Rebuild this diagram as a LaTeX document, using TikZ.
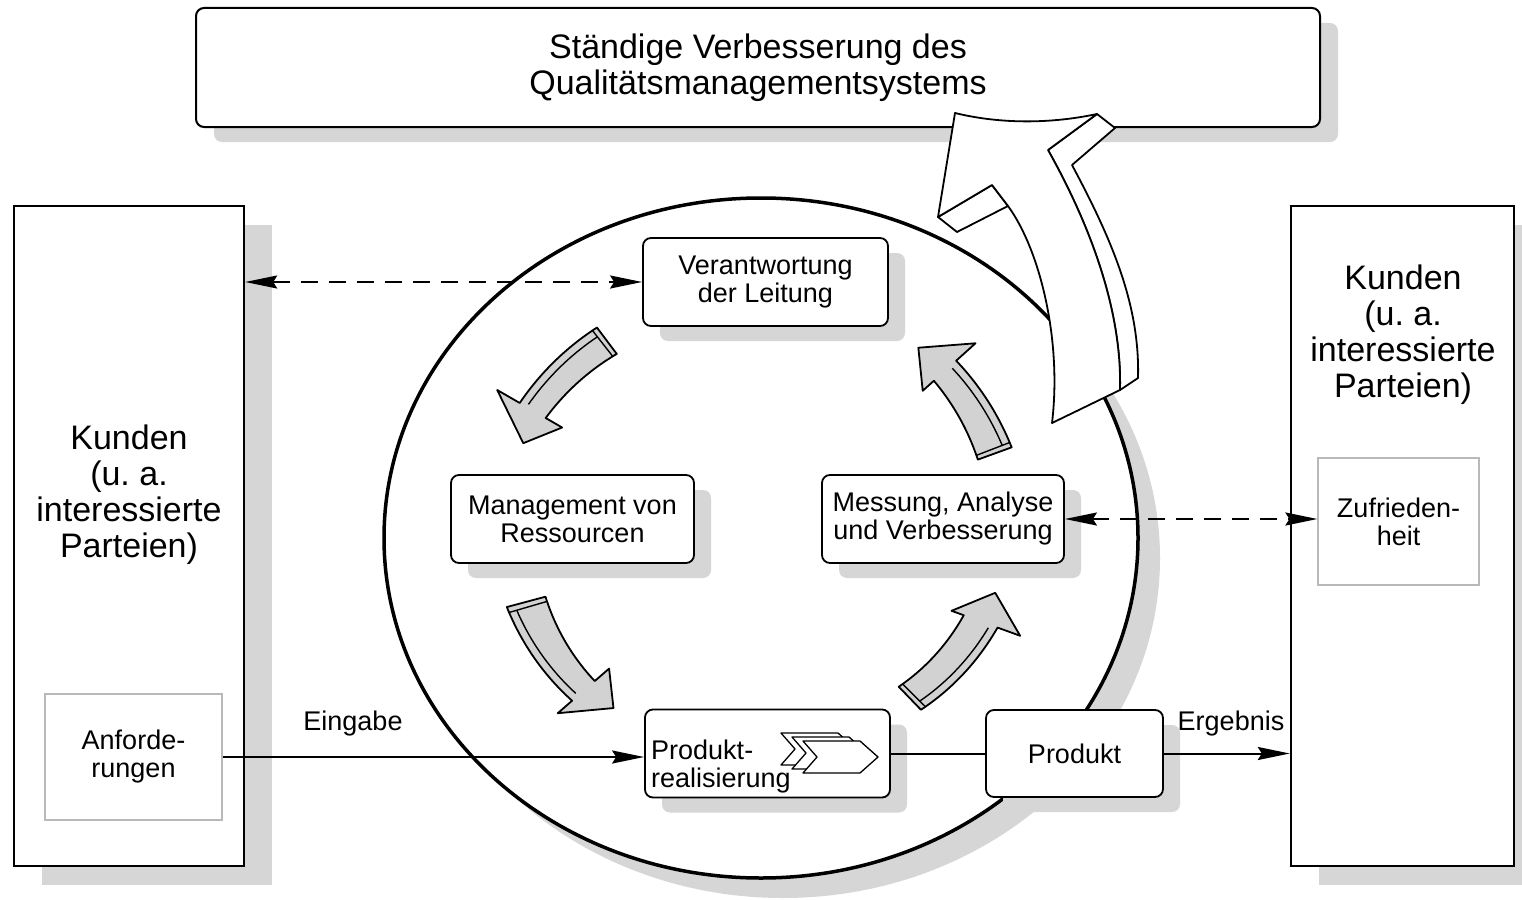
\documentclass[tikz,border=0pt]{standalone}
\usepackage{fontspec}
\setmainfont{Liberation Sans}
\usetikzlibrary{shapes.geometric,shadows,arrows.meta}
\definecolor{shgray}{RGB}{214,214,214}
\definecolor{arrgray}{RGB}{210,210,210}
\frenchspacing
\newcommand{\garrowtip}{250}
\newcommand{\garrow}[9]{%
  \begin{scope}[shift={(757,540)}]
    \filldraw[garr] plot[domain=0:1,samples=25] ({#1+(#2-(#1))*\x}:{#5+(#7-(#5))*\x})
      -- ({#2}:{#9}) -- ({#3}:{\garrowtip}) -- ({#2}:{#8})
      -- plot[domain=0:1,samples=25] ({#2+(#1-(#2))*\x}:{#6+(#4-(#6))*\x}) -- cycle;
    \draw[garrthin] plot[domain=0.05:0.97,samples=20] ({#1+(#2-(#1))*\x}:{#5-8+(#7-(#5))*\x});
    \draw[garrthin] ({#1+(#2-(#1))*0.05}:{#4+(#6-(#4))*0.05}) -- ({#1+(#2-(#1))*0.05}:{#5+(#7-(#5))*0.05});
  \end{scope}}
\newcommand{\chevronshape}[2]{%
  \filldraw[fill=white,draw=black,line width=1.3pt,line join=round]
    (#1,#2) -- ++(57,0) -- ++(18,16) -- ++(-18,16) -- ++(-57,0) -- ++(14,-16) -- cycle;}
\begin{document}
\begin{tikzpicture}[x=1pt,y=-1pt,
  bigfont/.style={font=\fontsize{34pt}{36pt}\selectfont\frenchspacing},
  txtfont/.style={font=\fontsize{27pt}{28pt}\selectfont},
  bigbox/.style={draw,line width=2.4pt,fill=white,minimum width=#1,minimum height=660pt,inner sep=0pt,
    drop shadow={shadow xshift=28pt,shadow yshift=-19pt,fill=shgray,opacity=1}},
  topbox/.style={draw,line width=2pt,rounded corners=8pt,fill=white,minimum width=1124pt,minimum height=119pt,
    inner sep=0pt,align=center,bigfont,
    drop shadow={shadow xshift=18pt,shadow yshift=-15pt,fill=shgray,opacity=1}},
  ibox/.style={draw,line width=1.8pt,rounded corners=8pt,fill=white,minimum width=#1,minimum height=88pt,
    inner sep=0pt,align=center,txtfont,
    drop shadow={shadow xshift=17pt,shadow yshift=-15pt,fill=shgray,opacity=1}},
  gbox/.style={draw=gray!55,line width=1.2pt,fill=white,inner sep=0pt,align=center,txtfont},
  bigtext/.style={align=center,bigfont,inner sep=0pt},
  lbl/.style={txtfont,inner sep=0pt},
  conn/.style={line width=2pt},
  dsh/.style={line width=2pt,dash pattern=on 17pt off 11pt},
  tipb/.tip={Stealth[length=32pt,width=13pt,inset=4pt]},
  garr/.style={fill=arrgray,draw=black,line width=1.8pt,line join=round},
  garrthin/.style={draw=black,line width=1.4pt},
  warr/.style={fill=white,draw=black,line width=1.8pt,line join=round}]

\useasboundingbox (0,0) rectangle (1522,899);
\fill[white] (0,0) rectangle (1522,899);

% big customer boxes
\node[bigbox=230pt] (lbox) at (129,536) {};
\node[bigbox=223pt] (rbox) at (1402.5,536) {};
\node[bigtext] (ltext) at (129,495) {Kunden\\(u. a.\\interessierte\\Parteien)};
\node[bigtext] (rtext) at (1403,335) {Kunden\\(u. a.\\interessierte\\Parteien)};

% top box
\node[topbox] (top) at (758,67.5) {Ständige Verbesserung des\\Qualitätsmanagementsystems};

% ellipse
\node[ellipse,draw,line width=3.5pt,fill=white,minimum width=754pt,minimum height=680pt,inner sep=0pt,
  drop shadow={shadow xshift=22pt,shadow yshift=-20pt,fill=shgray,opacity=1}] (circ) at (761,538) {};

% inner boxes
\node[ibox=245pt] (ver) at (765.5,282) {Verantwortung\\der Leitung};
\node[ibox=243pt] (man) at (572.5,519) {Management von\\Ressourcen};
\node[ibox=242pt] (mess) at (943,519) {Messung, Analyse\\und Verbesserung};
\node[ibox=245pt] (prod) at (767.5,753.5) {};
\node[ibox=177pt,minimum height=87pt] (produkt) at (1074.5,753.5) {Produkt};
\node[txtfont,align=left,anchor=west,inner sep=0pt] (prodtext) at (651,767) {Produkt-\\realisierung};

% chevrons
\chevronshape{781}{733}
\chevronshape{792}{737}
\chevronshape{803}{741}

% curved grey arrows
\renewcommand{\garrowtip}{253}
\garrow{233}{210}{202.5}{233}{266}{244}{274}{225}{300}
\renewcommand{\garrowtip}{221}
\garrow{165}{139}{130.5}{219}{259}{215}{245}{196}{264}
\renewcommand{\garrowtip}{244}
\garrow{46}{20}{12.5}{204}{236}{220}{256}{207}{280}
\renewcommand{\garrowtip}{251}
\garrow{-20}{-42}{-50}{235}{271}{238}{268}{223}{294}

% big white arrow
\filldraw[warr] (1097,114) -- (1115,128) -- (1072,165) .. controls (1112,240) and (1140,305) .. (1138,378)
  -- (1120,390) .. controls (1122,310) and (1090,225) .. (1048,150) -- cycle;
\filldraw[warr] (938,217) -- (957,232) -- (1008,206) -- (992,185) -- cycle;
\filldraw[warr] (955,113) .. controls (1000,124) and (1050,124) .. (1097,114) -- (1048,150)
  .. controls (1090,225) and (1122,310) .. (1120,390) -- (1052,423)
  .. controls (1062,340) and (1040,250) .. (1008,206) -- (992,185) -- (938,217) -- cycle;

% small grey boxes
\node[gbox,minimum width=177pt,minimum height=126pt] (anf) at (133.5,757) {Anforde-\\rungen};
\node[gbox,minimum width=161pt,minimum height=127pt] (zuf) at (1398.5,521.5) {Zufrieden-\\heit};

% connectors
\draw[dsh,tipb-tipb] (ver.west -| lbox.east) -- (ver.west);
\draw[dsh,tipb-tipb] (mess.east) -- (mess.east -| zuf.west);
\draw[conn,-tipb] (anf.east) -- (anf.east -| prod.west);
\draw[conn] (prod.east |- produkt.west) -- (produkt.west);
\draw[conn,-tipb] (produkt.east) -- (produkt.east -| rbox.west);
\node[lbl] (eing) at (353,724) {Eingabe};
\node[lbl] (erg) at (1231,724) {Ergebnis};
\end{tikzpicture}
\end{document}
